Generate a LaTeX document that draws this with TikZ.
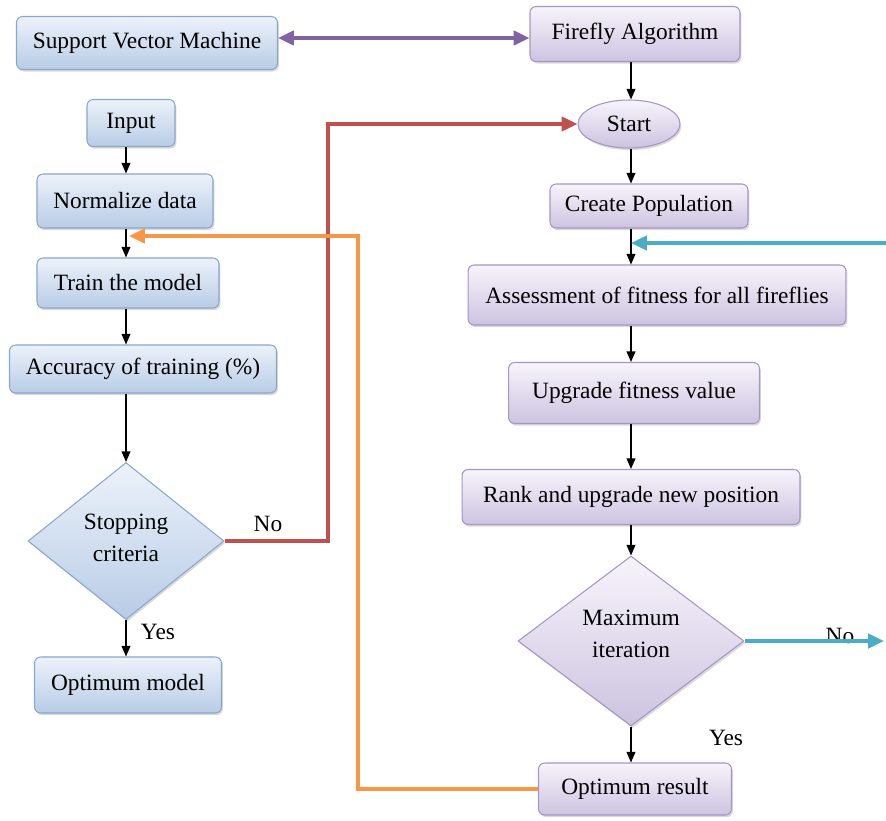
\documentclass[tikz,border=0pt]{standalone}
\usepackage{fontspec}
\setmainfont{Liberation Serif}
\usetikzlibrary{arrows.meta, shapes.geometric, shadows}

\definecolor{bluetop}{RGB}{236,242,250}
\definecolor{bluebot}{RGB}{184,204,230}
\definecolor{blueline}{RGB}{138,166,205}
\definecolor{violtop}{RGB}{247,244,251}
\definecolor{violbot}{RGB}{205,195,224}
\definecolor{violline}{RGB}{165,150,196}
\definecolor{linkpurple}{RGB}{128,100,162}
\definecolor{linkred}{RGB}{192,80,77}
\definecolor{linkorange}{RGB}{247,150,70}
\definecolor{linkteal}{RGB}{75,172,198}

\begin{document}
\begin{tikzpicture}[x=0.02cm, y=-0.02cm, ->, >={Triangle[length=6pt,width=5pt]},
  line width=0.75pt,
  box/.style={rectangle, rounded corners=3.5pt, line width=0.6pt, inner sep=0pt,
    align=center, font=\fontsize{13.3}{18}\selectfont,
    drop shadow={opacity=0.3, shadow xshift=0.8pt, shadow yshift=-1.2pt}},
  svm node/.style={box, draw=blueline, top color=bluetop, bottom color=bluebot},
  ffa node/.style={box, draw=violline, top color=violtop, bottom color=violbot},
  svm test/.style={svm node, diamond, rounded corners=0pt},
  ffa test/.style={ffa node, diamond, rounded corners=0pt},
  lbl/.style={font=\fontsize{13.3}{16}\selectfont, inner sep=0pt},
  link/.style={line width=2.2pt, -{Triangle[length=9pt,width=8pt]}}]
  \useasboundingbox (0,0) rectangle (886,821);

  % SVM side
  \node[svm node, minimum width=5.22cm, minimum height=1.06cm] (svm) at (147,43) {Support Vector Machine};
  \node[svm node, minimum width=1.76cm, minimum height=0.94cm] (input) at (131,123) {Input};
  \node[svm node, minimum width=3.52cm, minimum height=1.08cm] (norm) at (125,201) {Normalize data};
  \node[svm node, minimum width=3.64cm, minimum height=1.0cm] (train) at (128,283) {Train the model};
  \node[svm node, minimum width=5.34cm, minimum height=0.96cm] (acc) at (143,369) {Accuracy of training (\%)};
  \node[svm test, minimum width=3.92cm, minimum height=3.14cm, text depth=4pt] (stop) at (126,541) {Stopping\\criteria};
  \node[svm node, minimum width=3.74cm, minimum height=1.12cm] (optm) at (128,685) {Optimum model};

  % firefly side
  \node[ffa node, minimum width=4.2cm, minimum height=1.1cm] (ffa) at (635,34) {Firefly Algorithm};
  \node[ffa node, ellipse, minimum width=2.04cm, minimum height=0.96cm] (start) at (629,124) {Start};
  \node[ffa node, minimum width=3.96cm, minimum height=0.88cm] (pop) at (649,206) {Create Population};
  \node[ffa node, minimum width=7.56cm, minimum height=1.2cm] (assess) at (657,295) {Assessment of fitness for all fireflies};
  \node[ffa node, minimum width=5.02cm, minimum height=1.22cm] (upgrade) at (634,393) {Upgrade fitness value};
  \node[ffa node, minimum width=6.76cm, minimum height=1.1cm] (rank) at (631,497) {Rank and upgrade new position};
  \node[ffa test, minimum width=4.52cm, minimum height=3.4cm, text depth=8pt] (maxit) at (631,641) {Maximum\\iteration};
  \node[ffa node, minimum width=3.86cm, minimum height=1.04cm] (optr) at (635,789) {Optimum result};

  \coordinate (lspine) at (126,0);
  \coordinate (rspine) at (631,0);
  \coordinate (backin) at (129,236);
  \coordinate (orx) at (358,0);
  \coordinate (redx) at (328,0);
  \coordinate (purpy) at (0,38);
  \coordinate (tealin) at (886,243);
  \coordinate (tealout) at (884,0);

  \foreach \a/\b in {input/norm, norm/train, train/acc, acc/stop, stop/optm}
    \draw (\a.south -| lspine) -- (\b.north -| lspine);
  \foreach \a/\b in {ffa/start, start/pop, pop/assess, assess/upgrade, upgrade/rank, rank/maxit, maxit/optr}
    \draw (\a.south -| rspine) -- (\b.north -| rspine);

  \node[lbl] (nol) at (268,524) {No};
  \node[lbl] (yesl) at (158,632) {Yes};
  \node[lbl] (yesr) at (726,738) {Yes};
  \node[lbl] (nor) at (840,636) {No};

  \draw[link, linkpurple, {Triangle[length=9pt,width=8pt]}-{Triangle[length=9pt,width=8pt]}] (svm.east |- purpy) -- (ffa.west |- purpy);
  \draw[link, linkred] (stop.east) -| (redx |- start.west) -- (start.west);
  \draw[link, linkorange] (optr.west) -| (orx |- backin) -- (backin);
  \draw[link, linkteal] (tealin) -- (tealin -| rspine);
  \draw[link, linkteal] (maxit.east) -- (maxit.east -| tealout);
\end{tikzpicture}
\end{document}
